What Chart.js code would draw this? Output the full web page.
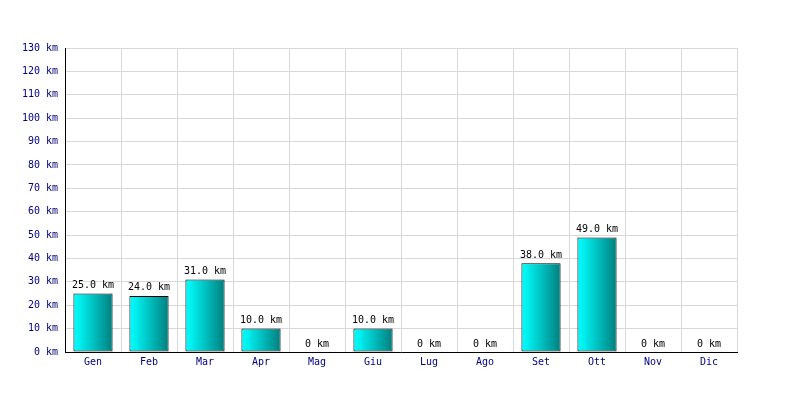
<!DOCTYPE html>
<html>
<head>
<meta charset="utf-8">
<script src="https://cdn.jsdelivr.net/npm/chart.js@4"></script>
<style>
  html, body { margin: 0; padding: 0; background: #fff; }
  #wrap { width: 800px; height: 400px; }
</style>
</head>
<body>
<div id="wrap"><canvas id="kmChart" width="800" height="400"></canvas></div>
<script>
// mesi e km percorsi
const months = ['Gen', 'Feb', 'Mar', 'Apr', 'Mag', 'Giu', 'Lug', 'Ago', 'Set', 'Ott', 'Nov', 'Dic'];
const kmValues = [25, 24, 31, 10, 0, 10, 0, 0, 38, 49, 0, 0];
const yMax = 130;
const yStep = 10;

const monoFont = { family: "'DejaVu Sans Mono', monospace", size: 10 };

function fmtKm(v) {
  return v === 0 ? '0 km' : v.toFixed(1) + ' km';
}

// gradiente orizzontale per ogni barra
function barGradient(c) {
  const chart = c.chart;
  if (!chart.chartArea || c.dataIndex === undefined) return '#00c0c0';
  const xs = chart.scales.x;
  const cx = xs.getPixelForValue(c.dataIndex);
  const half = (xs.width / months.length) * 0.7 / 2;
  const g = chart.ctx.createLinearGradient(cx - half, 0, cx + half, 0);
  g.addColorStop(0, '#00ffff');
  g.addColorStop(0.15, '#00f0f0');
  g.addColorStop(1, '#007f7f');
  return g;
}

const valueLabels = {
  id: 'valueLabels',
  afterDatasetsDraw(chart) {
    const ctx = chart.ctx;
    const meta = chart.getDatasetMeta(0);
    ctx.save();
    ctx.font = "10px 'DejaVu Sans Mono', monospace";
    ctx.fillStyle = '#000';
    ctx.textAlign = 'center';
    ctx.textBaseline = 'bottom';
    meta.data.forEach((bar, i) => {
      ctx.fillText(fmtKm(kmValues[i]), bar.x, bar.y - 3);
    });
    ctx.restore();
  }
};

new Chart(document.getElementById('kmChart').getContext('2d'), {
  type: 'bar',
  data: {
    labels: months,
    datasets: [{
      data: kmValues,
      backgroundColor: barGradient,
      borderColor: '#000',
      borderWidth: 1,
      borderSkipped: false,
      categoryPercentage: 0.7,
      barPercentage: 1
    }]
  },
  options: {
    responsive: false,
    animation: false,
    layout: { padding: { left: 0, top: 48, right: 63, bottom: 0 } },
    plugins: { legend: { display: false }, tooltip: { enabled: false } },
    scales: {
      x: {
        grid: { color: '#d8d8d8', drawTicks: false, offset: true },
        border: { color: '#000', width: 1 },
        ticks: { color: '#000080', font: monoFont, padding: 4 },
        afterFit(s) { s.height = 48; }
      },
      y: {
        min: 0,
        max: yMax,
        grid: { color: '#d8d8d8', drawTicks: false },
        border: { color: '#000', width: 1 },
        ticks: {
          stepSize: yStep,
          color: '#000080',
          font: monoFont,
          padding: 7,
          callback: v => v + ' km'
        },
        afterFit(s) { s.width = 65; }
      }
    }
  },
  plugins: [valueLabels]
});
</script>
</body>
</html>
